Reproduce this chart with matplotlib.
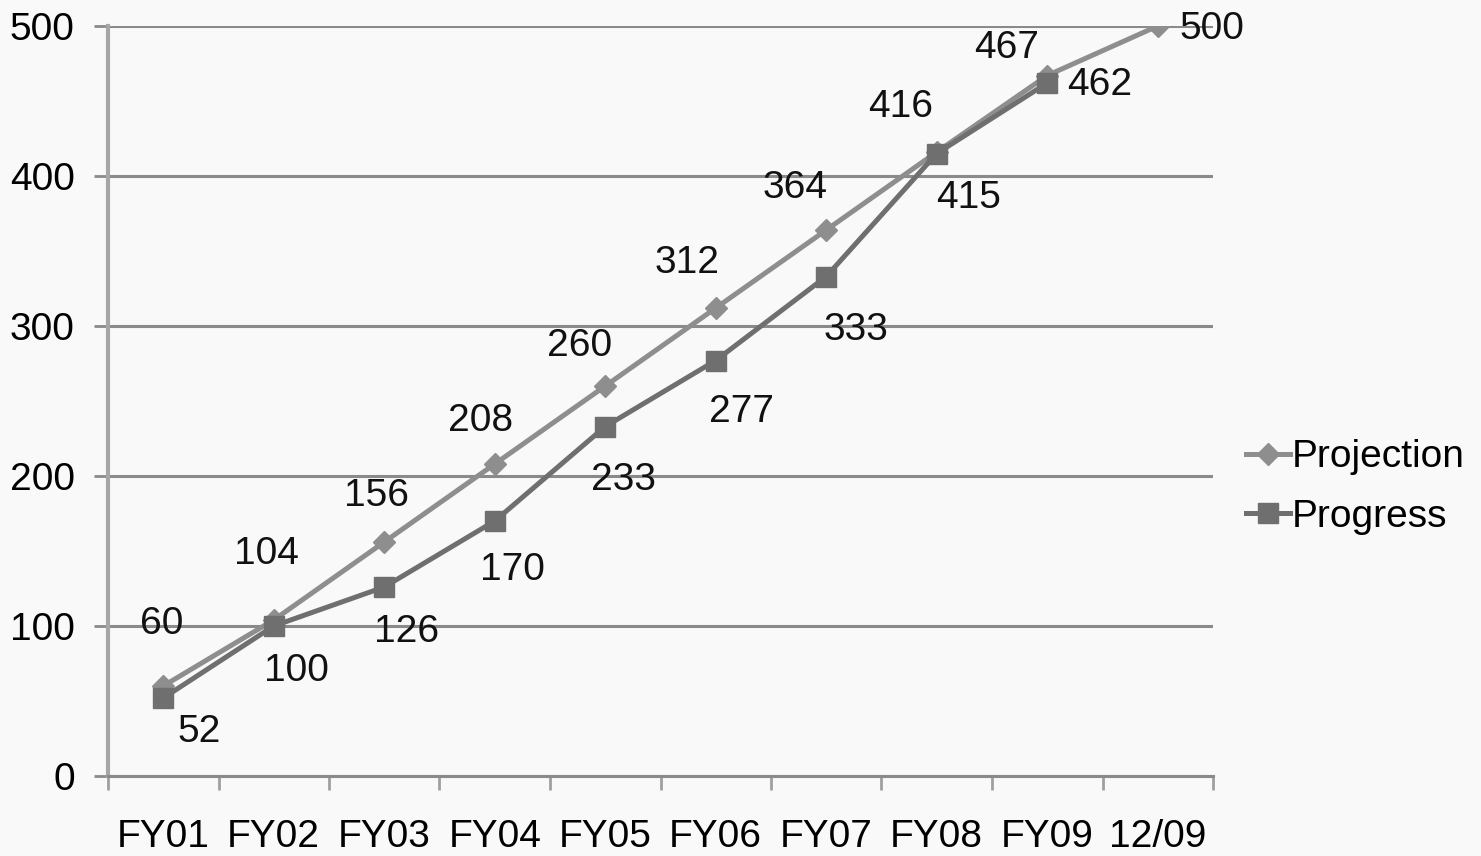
import matplotlib
matplotlib.use("Agg")
import matplotlib.pyplot as plt

# cumulative counts per fiscal year
categories = ["FY01", "FY02", "FY03", "FY04", "FY05", "FY06", "FY07", "FY08", "FY09", "12/09"]
projection = [60, 104, 156, 208, 260, 312, 364, 416, 467, 500]
progress = [52, 100, 126, 170, 233, 277, 333, 415, 462]

# label offsets in pixels (dx, dy)
proj_offsets = [(-2, 65), (-7, 69), (-8, 49), (-14, 46), (-26, 43), (-29, 48),
                (-31, 45), (-36, 48), (-41, 30), (54, 0)]
prog_offsets = [(36, -31), (23, -42), (22, -42), (18, -46), (18, -51), (26, -48),
                (30, -51), (32, -41), (52, 1)]

plt.rcParams["font.family"] = ["Liberation Sans", "DejaVu Sans"]
FS = 28
BG = "#f9f9f9"

fig = plt.figure(figsize=(14.81, 8.56), dpi=100, facecolor=BG)
ax = fig.add_axes([108 / 1481, 80 / 856, (1213 - 108) / 1481, 750 / 856], facecolor=BG)

x_proj = list(range(len(projection)))
x_prog = list(range(len(progress)))

ax.plot(x_proj, projection, color="#8e8e8e", lw=3.6, marker="D", ms=11,
        label="Projection", zorder=3)
ax.plot(x_prog, progress, color="#6f6f6f", lw=3.6, marker="s", ms=14,
        label="Progress", zorder=4)

for x, v, (dx, dy) in zip(x_proj, projection, proj_offsets):
    ax.annotate(str(v), (x, v), xytext=(dx, dy - 3), textcoords="offset pixels",
                ha="center", va="center", fontsize=FS, color="#111111")
for x, v, (dx, dy) in zip(x_prog, progress, prog_offsets):
    ax.annotate(str(v), (x, v), xytext=(dx, dy - 3), textcoords="offset pixels",
                ha="center", va="center", fontsize=FS, color="#111111")

ax.set_xlim(-0.5, len(categories) - 0.5)
ax.set_ylim(0, 500)
ax.set_yticks(range(0, 501, 100))
ax.yaxis.grid(True, color="#8a8a8a", lw=2.2)
ax.set_axisbelow(True)

# category labels centred, tick marks on the boundaries
ax.set_xticks(range(len(categories)))
ax.set_xticklabels(categories)
ax.set_xticks([i - 0.5 for i in range(len(categories) + 1)], minor=True)
ax.tick_params(axis="x", which="major", length=0, pad=31, labelsize=FS)
ax.tick_params(axis="x", which="minor", length=10, width=2, color="#a0a0a0")
ax.tick_params(axis="y", length=10, width=2, color="#8a8a8a", pad=14, labelsize=FS)

for s in ("top", "right"):
    ax.spines[s].set_visible(False)
ax.spines["left"].set_color("#a6a6a6")
ax.spines["left"].set_linewidth(3)
ax.spines["bottom"].set_color("#8a8a8a")
ax.spines["bottom"].set_linewidth(2.2)

fig.legend(loc="center left", bbox_to_anchor=(1230 / 1481, 1 - 487 / 856),
           frameon=False, fontsize=FS, handlelength=1.15, handletextpad=0.05,
           labelspacing=0.6, borderaxespad=0)

fig.savefig("out.png", dpi=100, facecolor=BG)
